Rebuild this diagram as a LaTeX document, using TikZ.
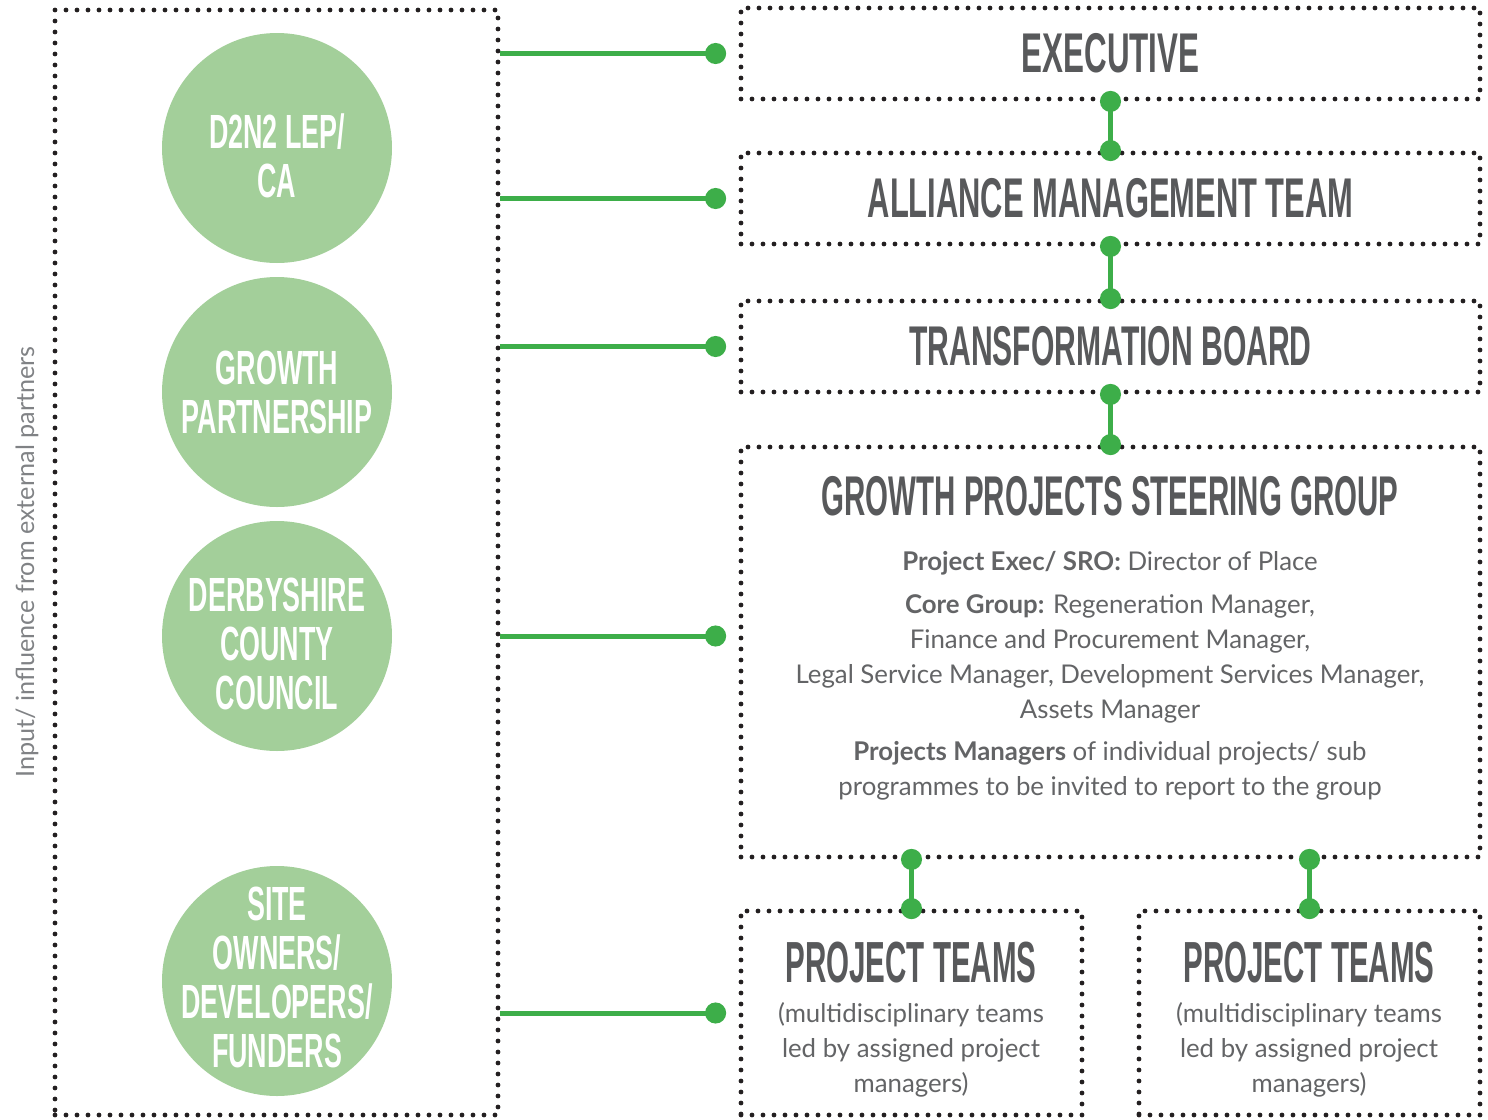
\documentclass[tikz,border=0pt]{standalone}
\usepackage{fontspec}
\setmainfont{Lato}
\newfontfamily\headfont{Liberation Sans}[FakeStretch=0.56]
\usetikzlibrary{arrows.meta}
\definecolor{ggreen}{HTML}{3DAE49}
\definecolor{lgreen}{HTML}{A3CF9A}
\definecolor{dgray}{HTML}{58595B}
\definecolor{tgray}{HTML}{636466}
\definecolor{sgray}{HTML}{808285}
\definecolor{dotc}{HTML}{231F20}
\begin{document}
\begin{tikzpicture}[x=0.5pt,y=-0.5pt,
  dotbox/.style={draw=dotc, line width=2.4pt, dash pattern=on 0pt off 5.5pt, line cap=round, rectangle, inner sep=0pt},
  bigbox/.style={dotbox, minimum width=369.5pt, minimum height=45.5pt},
  ptbox/.style={dotbox, minimum width=170.5pt, minimum height=102pt},
  ttl/.style={text=dgray, font=\headfont\bfseries\fontsize{28}{28}\selectfont},
  circ/.style={circle, fill=lgreen, minimum size=115pt, inner sep=-40pt, text=white, align=center,
     font=\headfont\bfseries\fontsize{24}{24.5}\selectfont},
  body/.style={text=tgray, align=center, inner sep=0pt, font=\fontsize{12.9}{17.5}\selectfont},
  conn/.style={draw=ggreen, line width=2.5pt, {Circle[length=10.5pt]}-{Circle[length=10.5pt]}, shorten <=-5.25pt, shorten >=-5.25pt},
  lconn/.style={draw=ggreen, line width=2.5pt, -{Circle[length=10.5pt]}, shorten >=-5.25pt}
]
\useasboundingbox (0,0) rectangle (1488,1119);

% left panel
\node[dotbox, minimum width=221.5pt, minimum height=552.5pt] (left) at (276.5,562.5) {};
\node[rotate=90, text=sgray, font=\fontsize{12.6}{14}\selectfont] (side) at (27,562) {Input/ influence from external partners};

\node[circ] (lep) at (277,148) {\rule{0pt}{25pt}D2N2 LEP/\\CA};
\node[circ] (gp) at (277,392) {GROWTH\\PARTNERSHIP};
\node[circ] (dcc) at (277,636) {\rule{0pt}{25pt}DERBYSHIRE\\COUNTY\\COUNCIL};
\node[circ] (site) at (277,981) {SITE\\OWNERS/\\DEVELOPERS/\\FUNDERS\rule[-4pt]{0pt}{4pt}};

% right boxes
\node[bigbox, ttl] (exec) at (1110.5,53.5) {EXECUTIVE};
\node[bigbox, ttl] (amt) at (1110.5,198.5) {\scalebox{0.985}[1]{ALLIANCE MANAGEMENT TEAM}};
\node[bigbox, ttl] (tb) at (1110.5,346.5) {\scalebox{0.96}[1]{TRANSFORMATION BOARD}};
\node[dotbox, minimum width=369.5pt, minimum height=205pt] (gpsg) at (1110.5,652) {};
\node[ttl, anchor=base] (gpsgtitle) at (1110,515) {\scalebox{0.94}[1]{GROWTH PROJECTS STEERING GROUP}};
\node[body, anchor=north] (gpsgtxt) at (1110,551) {\textbf{Project Exec/ SRO:} Director of Place\\[4pt]
  \textbf{Core Group:} Regeneration Manager,\\
  Finance and Procurement Manager,\\
  Legal Service Manager, Development Services Manager,\\
  Assets Manager\\[3.5pt]
  \textbf{Projects Managers} of individual projects/ sub\\
  programmes to be invited to report to the group};

\node[ptbox] (pt1) at (911.5,1013) {};
\node[ptbox] (pt2) at (1309.5,1013) {};
\node[ttl, anchor=base, font=\headfont\bfseries\fontsize{29}{29}\selectfont] (pt1title) at (911,982) {\scalebox{0.91}[1]{PROJECT TEAMS}};
\node[ttl, anchor=base, font=\headfont\bfseries\fontsize{29}{29}\selectfont] (pt2title) at (1309,982) {\scalebox{0.91}[1]{PROJECT TEAMS}};
\node[body, anchor=north] (pt1txt) at (911,1002) {(multidisciplinary teams\\led by assigned project\\managers)};
\node[body, anchor=north] (pt2txt) at (1309,1002) {(multidisciplinary teams\\led by assigned project\\managers)};

% vertical connectors
\draw[conn] (exec.south) -- (amt.north);
\draw[conn] (amt.south) -- (tb.north);
\draw[conn] (tb.south) -- (gpsg.north);
\draw[conn] (pt1.north |- gpsg.south) -- (pt1.north);
\draw[conn] (pt2.north |- gpsg.south) -- (pt2.north);

% left connectors
\draw[lconn] (left.east |- exec.center) -- ([xshift=-11.5pt]exec.west);
\draw[lconn] (left.east |- amt.center) -- ([xshift=-11.5pt]amt.west);
\draw[lconn] (left.east |- tb.center) -- ([xshift=-11.5pt]tb.west);
\draw[lconn] (left.east |- dcc.center) -- ([xshift=-11.5pt]gpsg.west |- dcc.center);
\draw[lconn] (left.east |- pt1.center) -- ([xshift=-11.5pt]pt1.west);
\end{tikzpicture}
\end{document}
